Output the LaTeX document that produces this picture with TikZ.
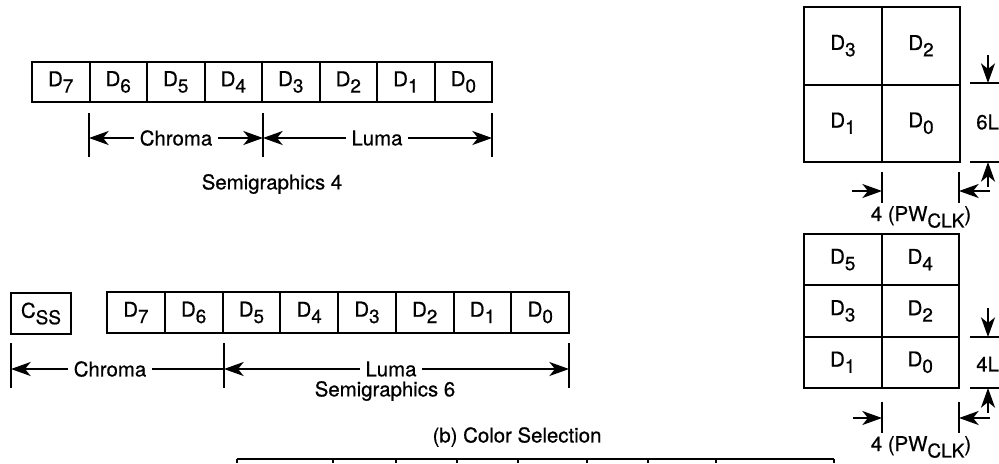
\documentclass[tikz,border=0pt]{standalone}
\usepackage{fontspec}
\setmainfont{TeX Gyre Heros}[FakeBold=0.6]
\usetikzlibrary{positioning,arrows.meta}

% lowered index as printed in the figure
\newcommand{\lo}[1]{\raisebox{-0.6ex}{\fontsize{13.5}{14}\selectfont #1}}

\tikzset{
    bitbox/.style={draw, line width=1.4pt, inner sep=0pt, outer sep=0pt,
        minimum width=1.4375cm, minimum height=1cm},
    bitboxb/.style={bitbox, minimum width=1.444cm, minimum height=1.025cm},
    cellbig/.style={bitbox, minimum width=1.95cm, minimum height=1.9375cm},
    cellsmall/.style={bitbox, minimum width=1.9375cm, minimum height=1.2825cm},
    dimline/.style={line width=1.1pt},
    dimarrow/.style={line width=1.1pt, -{Stealth[length=14pt,width=10pt,inset=4pt]}},
    label/.style={inner sep=4pt}
}

\begin{document}
\begin{tikzpicture}[x=0.025cm, y=-0.025cm, font=\fontsize{14.5}{17}\selectfont]
    \useasboundingbox (0,0) rectangle (999,463);

    % Draw semigraphics 4 byte
    \node[bitbox, anchor=north west] (a7) at (32,62) {D\lo{7}};
    \node[bitbox, right=0pt of a7] (a6) {D\lo{6}};
    \node[bitbox, right=0pt of a6] (a5) {D\lo{5}};
    \node[bitbox, right=0pt of a5] (a4) {D\lo{4}};
    \node[bitbox, right=0pt of a4] (a3) {D\lo{3}};
    \node[bitbox, right=0pt of a3] (a2) {D\lo{2}};
    \node[bitbox, right=0pt of a2] (a1) {D\lo{1}};
    \node[bitbox, right=0pt of a1] (a0) {D\lo{0}};

    % Draw the boundary ticks
    \draw[dimline] (89,113) -- (89,157);
    \draw[dimline] (263,113) -- (263,157);
    \draw[dimline] (492,113) -- (492,157);
    \coordinate (chromaA) at (89,138);
    \coordinate (chromaB) at (263,138);
    \coordinate (lumaB) at (492,138);

    % Draw chroma and luma arrows
    \node[label] (chroma4) at (176,138) {Chroma};
    \node[label] (luma4) at (377,138) {Luma};
    \draw[dimarrow] (chroma4.west) -- (chromaA);
    \draw[dimarrow] (chroma4.east) -- (chromaB);
    \draw[dimarrow] (luma4.west) -- (chromaB);
    \draw[dimarrow] (luma4.east) -- (lumaB);
    \node (title4) at (272,184) {Semigraphics 4};

    % Draw semigraphics 6 byte
    \node[bitbox, minimum width=1.5cm, minimum height=1.025cm, anchor=north west] (css) at (11,293) {C\lo{SS}};
    \node[bitboxb, anchor=north west] (b7) at (107,292) {D\lo{7}};
    \node[bitboxb, right=0pt of b7] (b6) {D\lo{6}};
    \node[bitboxb, right=0pt of b6] (b5) {D\lo{5}};
    \node[bitboxb, right=0pt of b5] (b4) {D\lo{4}};
    \node[bitboxb, right=0pt of b4] (b3) {D\lo{3}};
    \node[bitboxb, right=0pt of b3] (b2) {D\lo{2}};
    \node[bitboxb, right=0pt of b2] (b1) {D\lo{1}};
    \node[bitboxb, right=0pt of b1] (b0) {D\lo{0}};

    % Draw the boundary ticks
    \draw[dimline] (11,343) -- (11,388);
    \draw[dimline] (224,343) -- (224,388);
    \draw[dimline] (569,343) -- (569,388);
    \coordinate (chromaC) at (11,369);
    \coordinate (chromaD) at (224,369);
    \coordinate (lumaD) at (569,369);

    % Draw chroma and luma arrows
    \node[label] (chroma6) at (110,369) {Chroma};
    \node[label] (luma6) at (391,369) {Luma};
    \draw[dimarrow] (chroma6.west) -- (chromaC);
    \draw[dimline] (chroma6.east) -- (chromaD);
    \draw[dimarrow] (luma6.west) -- (chromaD);
    \draw[dimarrow] (luma6.east) -- (lumaD);
    \node (title6) at (385,391) {Semigraphics 6};

    % Draw 2x2 cell
    \node[cellbig, anchor=north west] (p3) at (804,7) {D\lo{3}};
    \node[cellbig, right=0pt of p3] (p2) {D\lo{2}};
    \node[cellbig, below=0pt of p3] (p1) {D\lo{1}};
    \node[cellbig, right=0pt of p1] (p0) {D\lo{0}};

    % height of a 6 line row
    \draw[dimline] (970,83) -- (999,83);
    \draw[dimline] (970,162) -- (999,162);
    \coordinate (h6top) at (988,83);
    \coordinate (h6bot) at (988,162);
    \draw[dimarrow] (988,55) -- (h6top);
    \draw[dimarrow] (988,187) -- (h6bot);
    \node[anchor=west, inner sep=0pt] (six) at (976,122) {6L};

    % width of one cell
    \draw[dimline] (882,172) -- (882,203);
    \draw[dimline] (959,172) -- (959,203);
    \coordinate (w4left) at (882,191);
    \coordinate (w4right) at (959,191);
    \draw[dimarrow] (852,191) -- (w4left);
    \draw[dimarrow] (990,191) -- (w4right);
    \node (clk4) at (921,217) {4 (PW\lo{CLK})};

    % Draw 2x3 cell
    \node[cellsmall, anchor=north west] (q5) at (804,234) {D\lo{5}};
    \node[cellsmall, right=0pt of q5] (q4) {D\lo{4}};
    \node[cellsmall, below=0pt of q5] (q3) {D\lo{3}};
    \node[cellsmall, right=0pt of q3] (q2) {D\lo{2}};
    \node[cellsmall, below=0pt of q3] (q1) {D\lo{1}};
    \node[cellsmall, right=0pt of q1] (q0) {D\lo{0}};

    % height of a 4 line row
    \draw[dimline] (970,337) -- (999,337);
    \draw[dimline] (970,388) -- (999,388);
    \coordinate (h4top) at (988,337);
    \coordinate (h4bot) at (988,388);
    \draw[dimarrow] (988,308) -- (h4top);
    \draw[dimarrow] (988,413) -- (h4bot);
    \node[anchor=west, inner sep=0pt] (four) at (976,364) {4L};

    % width of one cell
    \draw[dimline] (882,402) -- (882,433);
    \draw[dimline] (959,402) -- (959,433);
    \coordinate (w6left) at (882,418);
    \coordinate (w6right) at (959,418);
    \draw[dimarrow] (853,418) -- (w6left);
    \draw[dimarrow] (990,418) -- (w6right);
    \node (clk6) at (921,447) {4 (PW\lo{CLK})};

    % caption and top of the next table
    \node (caption) at (517,437) {(b) Color Selection};
    \draw[line width=1.4pt] (237,459) -- (834,459);
    \foreach \x in {237,333,396,457,518,587,648,716,834}
        \draw[line width=1.4pt] (\x,459) -- (\x,463);
\end{tikzpicture}
\end{document}
